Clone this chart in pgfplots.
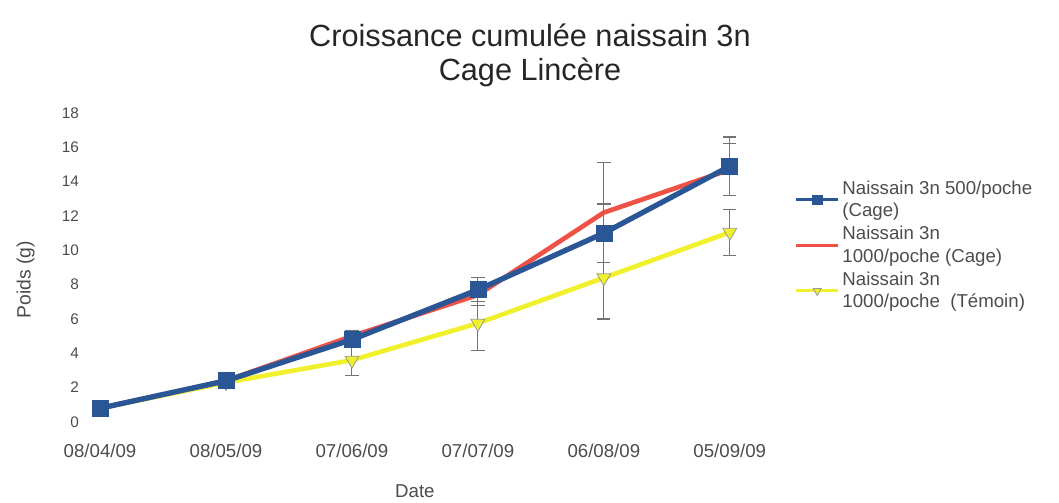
\documentclass[border=0pt]{standalone}
\usepackage{pgfplots}
\pgfplotsset{compat=1.18}
\usepackage{fontspec}
\setmainfont{Liberation Sans}
\definecolor{cblue}{RGB}{42,86,150}
\definecolor{cred}{RGB}{238,82,70}
\definecolor{cyel}{RGB}{240,240,45}
\begin{document}
\begin{tikzpicture}
\useasboundingbox (-63.7pt,-60.75pt) rectangle (730.6pt,316.5pt);
\begin{axis}[
  at={(0,0)}, anchor=south west,
  scale only axis, width=495pt, height=231.75pt,
  xmin=-0.12, xmax=5.12, ymin=0, ymax=18,
  axis line style={draw=none},
  xtick={0,...,5},
  xticklabels={08/04/09,08/05/09,07/06/09,07/07/09,06/08/09,05/09/09},
  ytick={0,2,...,18},
  major tick length=0pt,
  tick label style={text=black!70},
  /pgf/number format/assume math mode=true,
  xticklabel style={font=\fontsize{14}{16}\selectfont, yshift=-13pt},
  yticklabel style={font=\fontsize{11.5}{13}\selectfont, xshift=-1pt},
  xlabel={Date}, ylabel={Poids (g)},
  label style={text=black!70},
  xlabel style={font=\fontsize{14}{16}\selectfont, at={(axis description cs:0.5,-0.225)}, anchor=center},
  ylabel style={font=\fontsize{14.5}{16}\selectfont, at={(axis description cs:-0.09,0.46)}, anchor=center},
  clip=false,
  reverse legend,
  legend style={draw=none, fill=none, at={(1.073,0.795)}, anchor=north west,
    font=\fontsize{14}{17}\selectfont, text=black!70, cells={align=left},
    row sep=1.5pt, inner sep=1pt},
  legend cell align=left,
  legend image code/.code={\draw[mark repeat=2,mark phase=2,#1, line width=2.5pt, mark size=3.5pt] plot coordinates {(0cm,0cm)(0.55cm,0cm)(1.1cm,0cm)};},
  error bars/y dir=both, error bars/y explicit,
  error bars/error bar style={black!55, line width=0.8pt},
  error bars/error mark options={rotate=90, mark size=5pt, black!55, line width=0.8pt},
]
\addplot[cyel, line width=3.5pt, mark=triangle*, mark options={rotate=180, fill=cyel, draw=black!40, line width=0.6pt}, mark size=6pt]
 coordinates {(0,0.8) +- (0,0.1) (1,2.3) +- (0,0.2) (2,3.6) +- (0,0.9) (3,5.75) +- (0,1.6) (4,8.4) +- (0,2.4) (5,11.05) +- (0,1.35)};
\addlegendentry{Naissain 3n\\1000/poche~~(Témoin)}
\addplot[cred, line width=3.5pt, mark=none]
 coordinates {(0,0.8) +- (0,0.1) (1,2.4) +- (0,0.2) (2,5.0) +- (0,0.3) (3,7.4) +- (0,0.6) (4,12.2) +- (0,2.9) (5,14.7) +- (0,1.5)};
\addlegendentry{Naissain 3n\\1000/poche (Cage)}
\addplot[cblue, line width=4pt, mark=square*, mark options={fill=cblue, draw=cblue, line width=0.5pt}, mark size=6pt]
 coordinates {(0,0.8) +- (0,0.1) (1,2.4) +- (0,0.2) (2,4.8) +- (0,0.3) (3,7.7) +- (0,0.7) (4,11.0) +- (0,1.7) (5,14.9) +- (0,1.7)};
\addlegendentry{Naissain 3n 500/poche\\(Cage)}
\end{axis}
\node[align=center, font=\fontsize{23}{26}\selectfont, text=black!85] at (333.8pt,275pt) {Croissance cumulée naissain 3n\\Cage Lincère};
\end{tikzpicture}
\end{document}
